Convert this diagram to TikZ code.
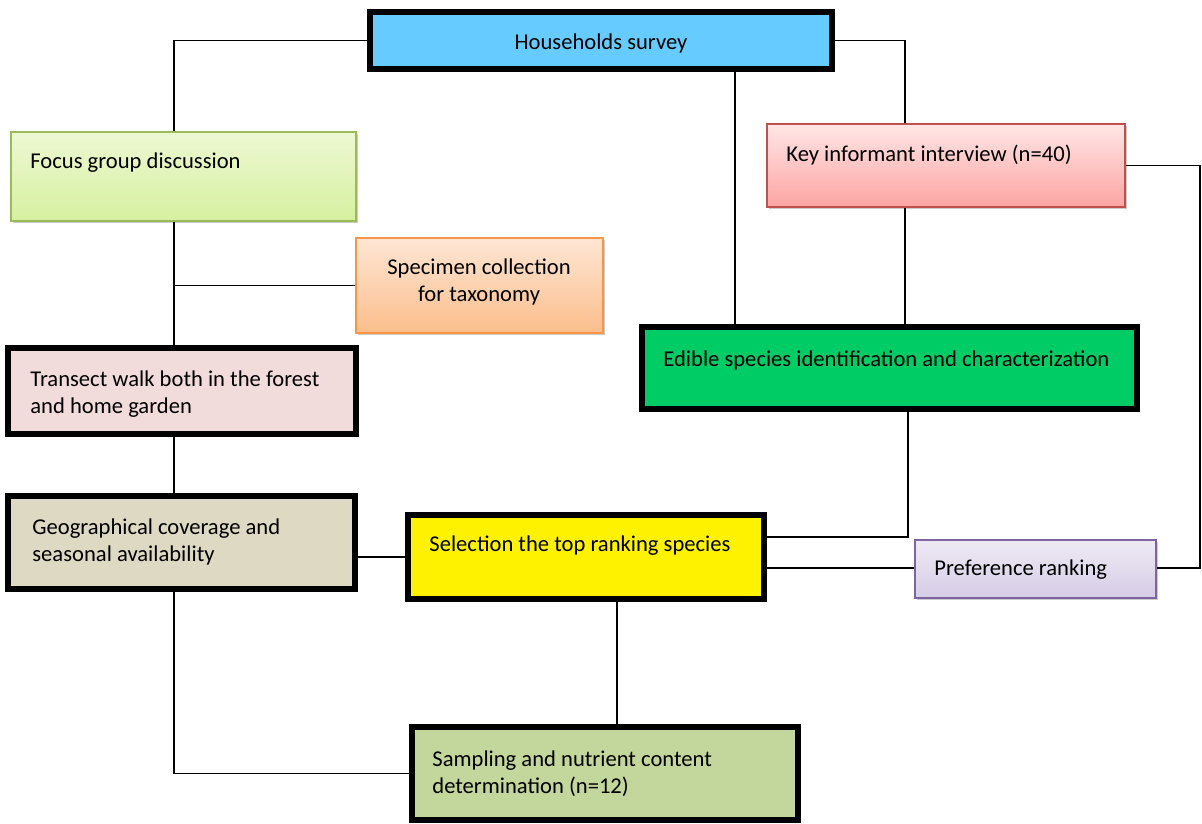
\documentclass[tikz,border=0pt]{standalone}
\usepackage{fontspec}
\setmainfont{Carlito}
\definecolor{SurveyBlue}{RGB}{102,204,255}
\definecolor{FocusTop}{RGB}{237,248,210}
\definecolor{FocusBot}{RGB}{214,240,160}
\definecolor{FocusLine}{RGB}{155,187,89}
\definecolor{KeyTop}{RGB}{255,230,230}
\definecolor{KeyBot}{RGB}{252,165,163}
\definecolor{KeyLine}{RGB}{192,80,77}
\definecolor{SpecTop}{RGB}{255,230,212}
\definecolor{SpecBot}{RGB}{251,190,140}
\definecolor{SpecLine}{RGB}{247,150,70}
\definecolor{PrefTop}{RGB}{238,234,244}
\definecolor{PrefBot}{RGB}{214,204,230}
\definecolor{PrefLine}{RGB}{128,100,162}
\definecolor{EdibleGreen}{RGB}{0,204,102}
\definecolor{WalkPink}{RGB}{242,220,219}
\definecolor{GeoTan}{RGB}{221,217,195}
\definecolor{SampleGreen}{RGB}{195,214,155}
\usetikzlibrary{positioning, fit, shadows}

\begin{document}
\begin{tikzpicture}[x=0.5pt,y=-0.5pt,
        every node/.style={font=\fontsize{11.3}{13.5}\selectfont},
        bold/.style={draw=black,line width=2.6pt,inner sep=0pt},
        soft/.style={draw=#1,line width=0.7pt,inner sep=0pt,
                     drop shadow={shadow xshift=0.9pt,shadow yshift=-0.9pt,
                                  fill=black!45,opacity=0.45}},
        txt/.style={inner sep=0pt,align=left,anchor=west},
        link/.style={draw=black,line width=0.75pt}]
        \useasboundingbox (0,0) rectangle (1202,823);

        % boxes
        \node[bold,fill=SurveyBlue,fit={(370,12) (832,69)}] (survey) {};
        \node[soft=FocusLine,top color=FocusTop,bottom color=FocusBot,fit={(11,132) (356,221)}] (focus) {};
        \node[soft=KeyLine,top color=KeyTop,bottom color=KeyBot,fit={(767,124) (1125,207)}] (key) {};
        \node[soft=SpecLine,top color=SpecTop,bottom color=SpecBot,fit={(356,238) (603,333)}] (spec) {};
        \node[bold,fill=EdibleGreen,fit={(642,327) (1137,409)}] (edible) {};
        \node[bold,fill=WalkPink,fit={(8,348) (356,434)}] (walk) {};
        \node[bold,fill=GeoTan,fit={(8,496) (355,589)}] (geo) {};
        \node[bold,fill=yellow,fit={(408,515) (764,599)}] (select) {};
        \node[soft=PrefLine,top color=PrefTop,bottom color=PrefBot,fit={(915,540) (1156,598)}] (pref) {};
        \node[bold,fill=SampleGreen,fit={(412,727) (798,820)}] (sample) {};

        % texts
        \node[inner sep=0pt] (surveyT) at (601,43) {Households survey};
        \node[txt] (focusT)  at (30,163)    {Focus group discussion};
        \node[txt] (keyT)    at (786,155)   {Key informant interview (n=40)};
        \node[inner sep=0pt,align=center] (specT) at (479,282) {Specimen collection\\for taxonomy};
        \node[txt] (edibleT) at (663,360)   {Edible species identification and characterization};
        \node[txt] (walkT)   at (30,394.5)  {Transect walk both in the forest\\and home garden};
        \node[txt] (geoT)    at (32,541.5)  {Geographical coverage and\\seasonal availability};
        \node[txt] (selectT) at (429,546)   {Selection the top ranking species};
        \node[txt] (prefT)   at (934,570)   {Preference ranking};
        \node[txt] (sampleT) at (432,773.5) {Sampling and nutrient content\\determination (n=12)};

        % line columns and rows
        \coordinate (colA) at (174,0);
        \coordinate (colB) at (735,0);
        \coordinate (colC) at (905,0);
        \coordinate (colD) at (1200,0);
        \coordinate (colE) at (908,0);
        \coordinate (colF) at (617,0);
        \coordinate (rowA) at (0,537);
        \coordinate (rowB) at (0,568);

        % connectors
        \draw[link] (survey.west) -| (focus.north -| colA);
        \draw[link] (survey.east) -| (key.north -| colC);
        \draw[link] (survey.south -| colB) -- (edible.north -| colB);
        \draw[link] (key.south -| colC) -- (edible.north -| colC);
        \draw[link] (key.east) -| (colD |- rowB) -- (pref.east |- rowB);
        \draw[link] (focus.south -| colA) -- (walk.north -| colA);
        \draw[link] (spec.west) -- (spec.west -| colA);
        \draw[link] (walk.south -| colA) -- (geo.north -| colA);
        \draw[link] (geo.east |- select.west) -- (select.west);
        \draw[link] (edible.south -| colE) |- (select.east |- rowA);
        \draw[link] (select.east |- rowB) -- (pref.west |- rowB);
        \draw[link] (select.south -| colF) -- (sample.north -| colF);
        \draw[link] (geo.south -| colA) |- (sample.west);
\end{tikzpicture}
\end{document}
